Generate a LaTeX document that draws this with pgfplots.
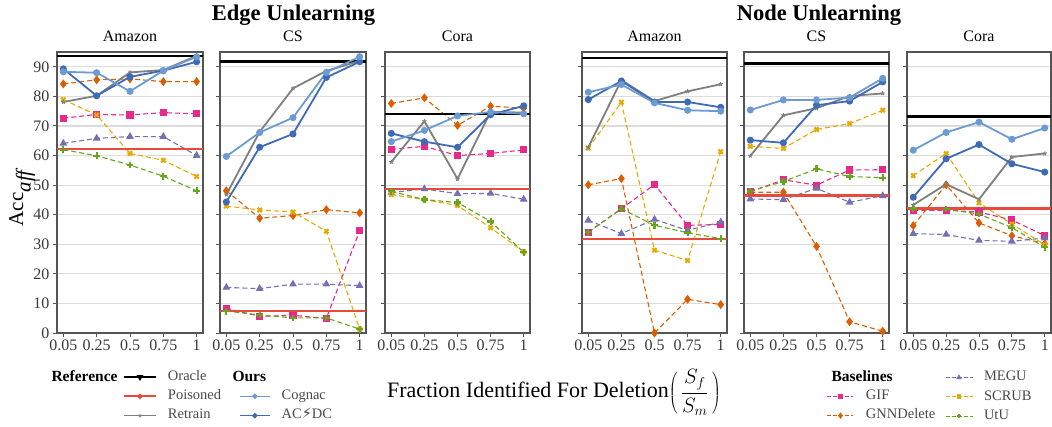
\documentclass[border=0pt]{standalone}
\usepackage{fontspec}
\setmainfont{Liberation Serif}
\newfontfamily\symfont{DejaVu Sans}
\usepackage{pgfplots}
\pgfplotsset{compat=1.18}

\definecolor{gridc}{HTML}{DCDCDC}
\definecolor{framec}{HTML}{555555}
\definecolor{tickc}{HTML}{3A3A3A}
\definecolor{legc}{HTML}{4A4A4A}
\definecolor{cPois}{HTML}{E84A3C}
\definecolor{cRetr}{HTML}{7F7F7F}
\definecolor{cCog}{HTML}{6C9BD2}
\definecolor{cAcdc}{HTML}{3E6BB4}
\definecolor{cGif}{HTML}{E7298A}
\definecolor{cGnn}{HTML}{D95F02}
\definecolor{cMegu}{HTML}{7570B3}
\definecolor{cScrub}{HTML}{E6AB02}
\definecolor{cUtu}{HTML}{66A61E}

\pgfplotsset{
  panel/.style={
    anchor=south west, scale only axis, width=146pt, height=281pt,
    xmin=-0.19, xmax=4.19, ymin=0, ymax=95,
    xtick={0,1,2,3,4},
    xticklabels={\textrm{0.05},\textrm{0.25},\textrm{0.5},\textrm{0.75},\textrm{1}},
    ytick={0,10,20,30,40,50,60,70,80,90},
    ymajorgrids, grid style={color=gridc, line width=1.2pt},
    axis line style={color=framec, line width=1.2pt},
    tick style={color=framec, line width=0.9pt},
    tick align=outside, major tick length=4pt, tick pos=left,
    ticklabel style={font=\fontsize{16}{18}\selectfont, text=tickc},
    xticklabel style={yshift=1pt},
    /pgf/number format/assume math mode=true,
    title style={font=\fontsize{16}{18}\selectfont, at={(0.5,1)}, anchor=base, yshift=5pt},
  },
  oracle/.style={black, line width=2.6pt},
  pois/.style={cPois, line width=2.6pt},
  retr/.style={cRetr, line width=1.8pt, mark=star, mark size=2.2pt, mark options={line width=1pt}},
  cog/.style={cCog, line width=1.8pt, mark=*, mark size=2.6pt},
  acdc/.style={cAcdc, line width=1.8pt, mark=*, mark size=2.6pt},
  base/.style={line width=1.1pt, dash pattern=on 5pt off 3pt},
  gif/.style={base, cGif, mark=square*, mark size=3pt, mark options={solid}},
  gnn/.style={base, cGnn, mark=diamond*, mark size=3.6pt, mark options={solid}},
  megu/.style={base, cMegu, mark=triangle*, mark size=3.4pt, mark options={solid}},
  scrub/.style={base, cScrub, mark=x, mark size=3pt, mark options={solid, line width=2.2pt}},
  utu/.style={base, cUtu, mark=+, mark size=3.4pt, mark options={solid, line width=2.2pt}},
  legax/.style={hide axis, scale only axis, width=1052pt, height=427pt,
    at={(0pt,0pt)}, anchor=south west, xmin=0, xmax=1, ymin=0, ymax=1,
    legend cell align=left,
    legend style={draw=none, fill=none, inner sep=0pt, outer sep=0pt,
      anchor=north west, row sep=5.8pt, column sep=11pt,
      font=\fontsize{14.5}{16}\selectfont, text=legc,
      cells={anchor=west},
      nodes={inner sep=0pt, text height=10pt, text depth=3.5pt}},
  },
}

\begin{document}
\begin{tikzpicture}
\useasboundingbox (0pt,0pt) rectangle (1052pt,427pt);

% ---------------- Edge Unlearning: Amazon
\begin{axis}[panel, at={(57pt,94pt)}, title={Amazon}]
\addplot[gif]   coordinates {(0,72.6)(1,73.9)(2,73.7)(3,74.5)(4,74.1)};
\addplot[gnn]   coordinates {(0,84.2)(1,85.6)(2,85.9)(3,85.0)(4,85.0)};
\addplot[megu]  coordinates {(0,64.1)(1,65.8)(2,66.4)(3,66.4)(4,60.0)};
\addplot[scrub] coordinates {(0,78.9)(1,73.7)(2,60.7)(3,58.4)(4,52.9)};
\addplot[utu]   coordinates {(0,62.0)(1,59.9)(2,56.8)(3,53.0)(4,48.1)};
\addplot[oracle] coordinates {(-0.19,93.6)(4.19,93.6)};
\addplot[pois]   coordinates {(-0.19,62.2)(4.19,62.2)};
\addplot[retr]  coordinates {(0,78.1)(1,80.2)(2,88.1)(3,88.9)(4,93.7)};
\addplot[acdc]  coordinates {(0,89.3)(1,80.2)(2,86.6)(3,88.7)(4,91.7)};
\addplot[cog]   coordinates {(0,88.3)(1,88.0)(2,81.7)(3,88.7)(4,93.4)};
\end{axis}

% ---------------- Edge Unlearning: CS
\begin{axis}[panel, at={(220pt,94pt)}, title={CS}, yticklabels={}]
\addplot[gif]   coordinates {(0,8.4)(1,5.6)(2,6.0)(3,4.9)(4,34.6)};
\addplot[gnn]   coordinates {(0,48.1)(1,38.8)(2,39.7)(3,41.7)(4,40.6)};
\addplot[megu]  coordinates {(0,15.4)(1,15.0)(2,16.5)(3,16.5)(4,16.0)};
\addplot[scrub] coordinates {(0,42.9)(1,41.6)(2,40.9)(3,34.4)(4,1.3)};
\addplot[utu]   coordinates {(0,7.4)(1,6.1)(2,5.1)(3,5.1)(4,1.3)};
\addplot[oracle] coordinates {(-0.19,91.7)(4.19,91.7)};
\addplot[pois]   coordinates {(-0.19,7.4)(4.19,7.4)};
\addplot[retr]  coordinates {(0,46.8)(1,68.0)(2,82.7)(3,88.6)(4,92.0)};
\addplot[acdc]  coordinates {(0,44.3)(1,62.8)(2,67.3)(3,86.4)(4,91.7)};
\addplot[cog]   coordinates {(0,59.7)(1,67.8)(2,72.8)(3,88.1)(4,93.4)};
\end{axis}

% ---------------- Edge Unlearning: Cora
\begin{axis}[panel, at={(385pt,94pt)}, width=145pt, title={Cora}, yticklabels={}]
\addplot[gif]   coordinates {(0,62.1)(1,63.1)(2,60.0)(3,60.7)(4,61.9)};
\addplot[gnn]   coordinates {(0,77.6)(1,79.5)(2,70.2)(3,76.7)(4,76.0)};
\addplot[megu]  coordinates {(0,47.5)(1,48.7)(2,47.1)(3,47.2)(4,45.2)};
\addplot[scrub] coordinates {(0,46.8)(1,45.1)(2,43.1)(3,35.6)(4,27.4)};
\addplot[utu]   coordinates {(0,47.9)(1,45.1)(2,44.1)(3,37.7)(4,27.3)};
\addplot[oracle] coordinates {(-0.19,74.1)(4.19,74.1)};
\addplot[pois]   coordinates {(-0.19,48.7)(4.19,48.7)};
\addplot[retr]  coordinates {(0,57.8)(1,71.6)(2,52.1)(3,74.8)(4,74.5)};
\addplot[acdc]  coordinates {(0,67.5)(1,64.7)(2,62.8)(3,73.8)(4,76.8)};
\addplot[cog]   coordinates {(0,64.7)(1,68.5)(2,73.4)(3,74.7)(4,74.1)};
\end{axis}

% ---------------- Node Unlearning: Amazon
\begin{axis}[panel, at={(582pt,94pt)}, width=145pt, title={Amazon}, yticklabels={}]
\addplot[gif]   coordinates {(0,34.1)(1,42.0)(2,50.2)(3,36.4)(4,36.7)};
\addplot[gnn]   coordinates {(0,50.1)(1,52.2)(2,0.0)(3,11.4)(4,9.6)};
\addplot[megu]  coordinates {(0,38.1)(1,33.6)(2,38.4)(3,34.7)(4,37.5)};
\addplot[scrub] coordinates {(0,62.5)(1,78.0)(2,28.0)(3,24.5)(4,61.3)};
\addplot[utu]   coordinates {(0,34.1)(1,42.0)(2,36.4)(3,33.9)(4,31.9)};
\addplot[oracle] coordinates {(-0.19,93.0)(4.19,93.0)};
\addplot[pois]   coordinates {(-0.19,31.8)(4.19,31.8)};
\addplot[retr]  coordinates {(0,62.8)(1,85.5)(2,78.4)(3,81.7)(4,84.1)};
\addplot[acdc]  coordinates {(0,78.9)(1,85.2)(2,78.1)(3,78.1)(4,76.3)};
\addplot[cog]   coordinates {(0,81.4)(1,84.0)(2,77.8)(3,75.3)(4,75.0)};
\end{axis}

% ---------------- Node Unlearning: CS
\begin{axis}[panel, at={(744pt,94pt)}, width=145pt, title={CS}, yticklabels={}]
\addplot[gif]   coordinates {(0,47.7)(1,51.8)(2,50.0)(3,55.1)(4,55.2)};
\addplot[gnn]   coordinates {(0,47.6)(1,47.6)(2,29.3)(3,3.8)(4,0.6)};
\addplot[megu]  coordinates {(0,45.3)(1,45.1)(2,48.9)(3,44.2)(4,46.4)};
\addplot[scrub] coordinates {(0,63.1)(1,62.4)(2,68.8)(3,70.8)(4,75.3)};
\addplot[utu]   coordinates {(0,48.0)(1,51.2)(2,55.5)(3,52.9)(4,52.5)};
\addplot[oracle] coordinates {(-0.19,91.1)(4.19,91.1)};
\addplot[pois]   coordinates {(-0.19,46.4)(4.19,46.4)};
\addplot[retr]  coordinates {(0,59.9)(1,73.6)(2,76.0)(3,80.1)(4,81.0)};
\addplot[acdc]  coordinates {(0,65.2)(1,64.3)(2,77.0)(3,78.4)(4,84.9)};
\addplot[cog]   coordinates {(0,75.4)(1,78.8)(2,78.8)(3,79.6)(4,86.1)};
\end{axis}

% ---------------- Node Unlearning: Cora
\begin{axis}[panel, at={(907pt,94pt)}, width=144pt, title={Cora}, yticklabels={}]
\addplot[gif]   coordinates {(0,41.5)(1,41.5)(2,40.9)(3,38.2)(4,32.9)};
\addplot[gnn]   coordinates {(0,36.3)(1,50.1)(2,37.2)(3,32.9)(4,30.2)};
\addplot[megu]  coordinates {(0,33.6)(1,33.3)(2,31.3)(3,31.0)(4,32.1)};
\addplot[scrub] coordinates {(0,53.2)(1,60.7)(2,44.0)(3,36.8)(4,29.8)};
\addplot[utu]   coordinates {(0,42.1)(1,41.9)(2,40.2)(3,35.6)(4,29.0)};
\addplot[oracle] coordinates {(-0.19,73.1)(4.19,73.1)};
\addplot[pois]   coordinates {(-0.19,42.0)(4.19,42.0)};
\addplot[retr]  coordinates {(0,43.3)(1,50.3)(2,45.2)(3,59.5)(4,60.7)};
\addplot[acdc]  coordinates {(0,45.9)(1,58.9)(2,63.7)(3,57.2)(4,54.4)};
\addplot[cog]   coordinates {(0,61.8)(1,67.8)(2,71.3)(3,65.5)(4,69.3)};
\end{axis}

% ---------------- Legends
\begin{axis}[legax, legend style={at={(0.1169,0.1328)}},
  legend image code/.code={\draw[mark repeat=2,mark phase=2] plot coordinates {(0pt,0pt)(16pt,0pt)(32pt,0pt)};}]
\addlegendimage{black, line width=2pt, mark=triangle*, mark size=2pt, mark options={rotate=180}}
\addlegendentry{Oracle}
\addlegendimage{cPois, line width=2pt, mark=*, mark size=1.6pt}
\addlegendentry{Poisoned}
\addlegendimage{cRetr, line width=1.6pt, mark=star, mark size=1.8pt, mark options={line width=0.8pt}}
\addlegendentry{Retrain}
\end{axis}
\begin{axis}[legax, legend style={at={(0.2272,0.0876)}},
  legend image code/.code={\draw[mark repeat=2,mark phase=2] plot coordinates {(0pt,0pt)(15pt,0pt)(30pt,0pt)};}]
\addlegendimage{cCog, line width=1.6pt, mark=*, mark size=1.8pt}
\addlegendentry{Cognac}
\addlegendimage{cAcdc, line width=1.6pt, mark=*, mark size=1.8pt}
\addlegendentry{AC{\symfont ⚡}DC}
\end{axis}
\begin{axis}[legax, legend style={at={(0.7861,0.0876)}, column sep=12pt},
  legend image code/.code={\draw[mark repeat=2,mark phase=2] plot coordinates {(0pt,0pt)(13pt,0pt)(26pt,0pt)};}]
\addlegendimage{cGif, line width=1pt, dash pattern=on 4pt off 2pt, mark=square*, mark size=2pt, mark options={solid}}
\addlegendentry{GIF}
\addlegendimage{cGnn, line width=1pt, dash pattern=on 4pt off 2pt, mark=diamond*, mark size=2.4pt, mark options={solid}}
\addlegendentry{GNNDelete}
\end{axis}
\begin{axis}[legax, legend style={at={(0.8983,0.1318)}},
  legend image code/.code={\draw[mark repeat=2,mark phase=2] plot coordinates {(0pt,0pt)(13.5pt,0pt)(27pt,0pt)};}]
\addlegendimage{cMegu, line width=1pt, dash pattern=on 4pt off 2pt, mark=triangle*, mark size=2.2pt, mark options={solid}}
\addlegendentry{MEGU}
\addlegendimage{cScrub, line width=1pt, dash pattern=on 4pt off 2pt, mark=square*, mark size=1.8pt, mark options={solid}}
\addlegendentry{SCRUB}
\addlegendimage{cUtu, line width=1pt, dash pattern=on 4pt off 2pt, mark=+, mark size=2.4pt, mark options={solid, line width=1.5pt}}
\addlegendentry{UtU}
\end{axis}

% ---------------- Texts
\node[anchor=west, font=\bfseries\fontsize{15.5}{17}\selectfont] at (48pt,51pt) {Reference};
\node[anchor=west, font=\bfseries\fontsize{15.5}{17}\selectfont] at (229pt,51pt) {Ours};
\node[anchor=west, font=\bfseries\fontsize{15.5}{17}\selectfont] at (828pt,51pt) {Baselines};
\node[anchor=base, font=\bfseries\fontsize{22.5}{26}\selectfont] at (293.5pt,406pt) {Edge Unlearning};
\node[anchor=base, font=\bfseries\fontsize{22.5}{26}\selectfont] at (819pt,406pt) {Node Unlearning};
\node[anchor=base, rotate=90, font=\fontsize{21}{24}\selectfont] at (23pt,229pt) {Acc$_{\textit{aff}}$};
\node[anchor=base, font=\fontsize{22}{26}\selectfont] at (554pt,29pt) {Fraction Identified For Deletion$\left(\,\displaystyle\frac{S_f}{S_m}\,\right)$};
\end{tikzpicture}
\end{document}
